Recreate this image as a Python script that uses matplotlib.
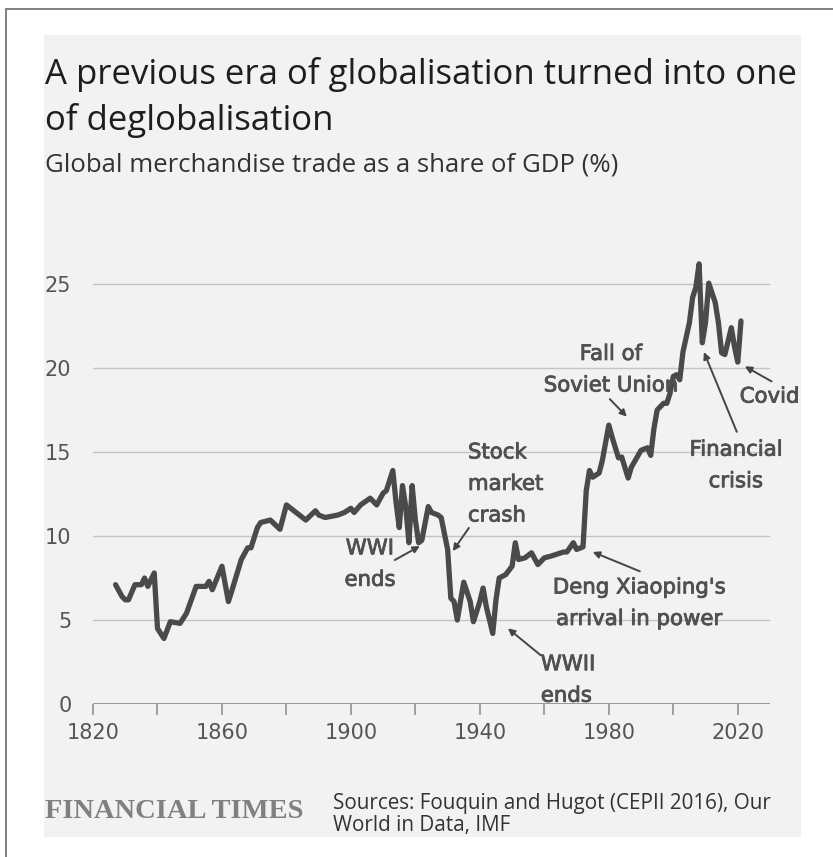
import matplotlib
matplotlib.use("Agg")
import matplotlib.pyplot as plt
from matplotlib.patches import Rectangle
from matplotlib.lines import Line2D
import matplotlib.patheffects as pe

# Global merchandise trade as a share of GDP (%)
years = [1827, 1829, 1830, 1831, 1833, 1835, 1836, 1837, 1839, 1840, 1841, 1842,
         1844, 1847, 1849, 1852, 1855, 1856, 1857, 1860, 1862, 1863, 1866, 1868,
         1869, 1871, 1872, 1875, 1878, 1880, 1883, 1886, 1889, 1890, 1892, 1896,
         1898, 1900, 1901, 1903, 1906, 1908, 1910, 1911, 1913, 1914, 1915, 1916,
         1917, 1918, 1919, 1920, 1921, 1922, 1924, 1925, 1927, 1928, 1930, 1931,
         1932, 1933, 1935, 1937, 1938, 1940, 1941, 1942, 1944, 1945, 1946, 1948,
         1950, 1951, 1952, 1954, 1956, 1958, 1960, 1962, 1966, 1967, 1969, 1970,
         1972, 1973, 1974, 1975, 1977, 1978, 1980, 1981, 1983, 1984, 1986, 1987,
         1990, 1992, 1993, 1994, 1995, 1997, 1998, 1999, 2000, 2001, 2002, 2003,
         2005, 2006, 2007, 2008, 2009, 2010, 2011, 2013, 2014, 2015, 2016, 2018,
         2019, 2020, 2021]
trade_share = [7.1, 6.4, 6.2, 6.2, 7.1, 7.1, 7.5, 7.0, 7.8, 4.5, 4.2, 3.9,
               4.9, 4.8, 5.4, 7.0, 7.0, 7.3, 6.8, 8.2, 6.1, 6.7, 8.6, 9.3,
               9.3, 10.5, 10.8, 10.95, 10.4, 11.85, 11.4, 10.95, 11.5, 11.25, 11.1, 11.25,
               11.4, 11.65, 11.4, 11.85, 12.25, 11.85, 12.55, 12.7, 13.9, 12.0, 10.5, 13.0,
               11.75, 9.6, 13.0, 10.95, 9.6, 9.75, 11.75, 11.4, 11.25, 11.1, 9.2, 6.3,
               6.1, 5.0, 7.25, 6.1, 4.9, 6.1, 6.9, 5.8, 4.2, 6.2, 7.5, 7.7,
               8.2, 9.6, 8.6, 8.7, 9.0, 8.3, 8.7, 8.8, 9.05, 9.05, 9.6, 9.2,
               9.35, 12.7, 13.9, 13.5, 13.75, 14.5, 16.6, 15.9, 14.65, 14.7, 13.45, 14.1,
               15.1, 15.25, 14.8, 16.4, 17.5, 17.9, 17.9, 18.5, 19.5, 19.6, 19.3, 20.95,
               22.7, 24.2, 24.8, 26.2, 21.5, 22.7, 25.05, 23.9, 22.7, 20.9, 20.8, 22.4,
               21.25, 20.35, 22.8]

y_ticks = [0, 5, 10, 15, 20, 25]
x_major = [1820, 1860, 1900, 1940, 1980, 2020]
x_minor = [1840, 1880, 1920, 1960, 2000]

W, H = 833, 857
fig = plt.figure(figsize=(W / 100, H / 100), dpi=100, facecolor="white")


def fx(x):
    return x / W


def fy(y):
    return 1 - y / H


# light panel and outer frame
fig.patches.append(Rectangle((fx(44), fy(837)), fx(801) - fx(44), fy(35) - fy(837),
                             transform=fig.transFigure, facecolor="#f2f2f2",
                             edgecolor="none", zorder=-10))
fig.lines.append(Line2D([fx(6), 1], [fy(9), fy(9)], transform=fig.transFigure,
                        color="#808080", lw=1.4, zorder=-5))
fig.lines.append(Line2D([fx(6), fx(6)], [fy(9), 0], transform=fig.transFigure,
                        color="#808080", lw=1.4, zorder=-5))

ax = fig.add_axes([fx(93), fy(704), fx(770) - fx(93), (27 * 16.8) / H])
ax.set_zorder(1)
ax.set_facecolor("none")
ax.set_xlim(1820, 2030)
ax.set_ylim(0, 27)

for v in y_ticks[1:]:
    ax.axhline(v, color="#c4c4c4", lw=1.0, zorder=1)
ax.axhline(0, color="#8a8a8a", lw=1.2, zorder=2)

for s in ax.spines.values():
    s.set_visible(False)

tick_font = dict(family="DejaVu Sans", size=15)
ax.set_yticks(y_ticks)
ax.set_yticklabels([str(v) for v in y_ticks], **tick_font)
ax.tick_params(axis="y", length=0, pad=15.5, labelcolor="#555555")
ax.set_xticks(x_major)
ax.set_xticks(x_minor, minor=True)
ax.set_xticklabels([str(v) for v in x_major], **tick_font)
ax.tick_params(axis="x", which="both", length=8, width=1.1, color="#8a8a8a",
               direction="out")
ax.tick_params(axis="x", which="major", pad=6, labelcolor="#555555")

ax.plot(years, trade_share, color="#4a4a4a", lw=3.8, solid_joinstyle="round",
        solid_capstyle="round", zorder=3)

note_color = "#505050"
note_kw = dict(fontsize=15.3, color=note_color, family="DejaVu Sans",
               linespacing=1.72, zorder=4, annotation_clip=False,
               path_effects=[pe.Stroke(linewidth=0.6, foreground=note_color),
                             pe.Normal()])
arrow_kw = dict(arrowstyle="-|>", color="#444444", lw=1.4, mutation_scale=10,
                shrinkA=0, shrinkB=0)

notes = [
    ("WWI\nends", (1905.9, 8.33), "center", (1913.6, 8.57), (1921.4, 9.4)),
    ("Stock\nmarket\ncrash", (1936.3, 13.1), "left", (1936.6, 10.48), (1931.6, 9.1)),
    ("WWII\nends", (1958.9, 1.43), "left", (1958.9, 2.9), (1948.7, 4.5)),
    ("Deng Xiaoping's\narrival in power", (1989.3, 6.0), "center", (1989.6, 7.9), (1975.0, 9.05)),
    ("Fall of\nSoviet Union", (1980.6, 19.9), "center", (1980.3, 18.15), (1985.6, 17.1)),
    ("Financial\ncrisis", (2019.4, 14.2), "center", (2019.7, 16.2), (2009.5, 20.95)),
    ("Covid", (2020.6, 18.3), "left", (2030.5, 19.2), (2022.2, 20.1)),
]
for text, pos, ha, tail, head in notes:
    ax.annotate(text, xy=pos, ha=ha, va="center", multialignment=ha, **note_kw)
    ax.annotate("", xy=head, xytext=tail, arrowprops=arrow_kw,
                annotation_clip=False, zorder=4)

fig.text(fx(45), fy(75), "A previous era of globalisation turned into one",
         fontsize=25, color="#1e1e1e", family="Open Sans", va="center", ha="left")
fig.text(fx(45), fy(121), "of deglobalisation",
         fontsize=25, color="#1e1e1e", family="Open Sans", va="center", ha="left")
fig.text(fx(45), fy(165), "Global merchandise trade as a share of GDP (%)",
         fontsize=18.5, color="#333333", family="Open Sans", va="center", ha="left")

fig.text(fx(45), fy(812), "FINANCIAL TIMES", fontsize=20.5, color="#808080",
         family="Liberation Serif", fontweight="bold", va="center", ha="left")
fig.text(fx(333), fy(803), "Sources: Fouquin and Hugot (CEPII 2016), Our",
         fontsize=14.9, color="#333333", family="Open Sans", va="center", ha="left")
fig.text(fx(333), fy(826), "World in Data, IMF",
         fontsize=14.9, color="#333333", family="Open Sans", va="center", ha="left")

fig.savefig("out.png", dpi=100, facecolor="white")
